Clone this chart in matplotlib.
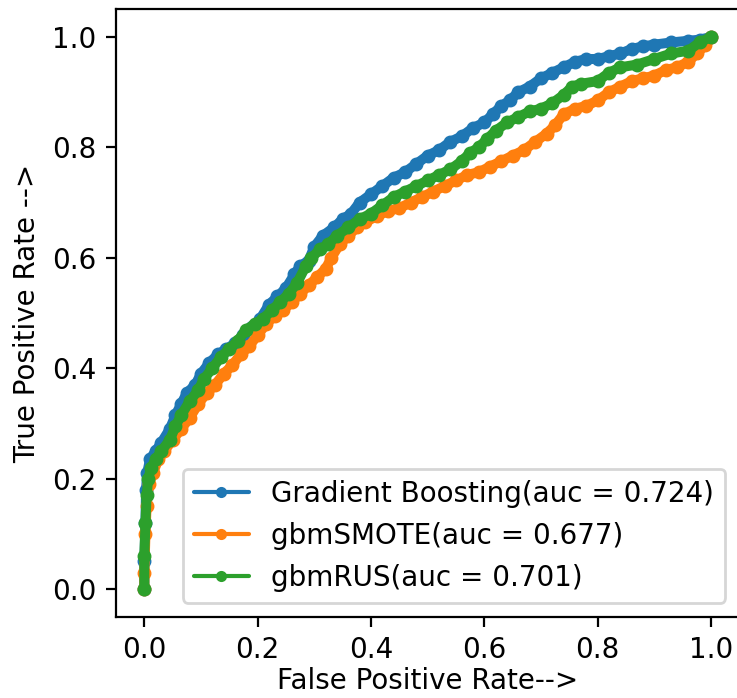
import numpy as np
import matplotlib.pyplot as plt

# ROC curve points
gb_fpr = [0, 0.0, 0.002, 0.003, 0.005, 0.01, 0.02, 0.03, 0.045, 0.055, 0.065, 0.075, 0.09, 0.10,
          0.115, 0.13, 0.145, 0.16, 0.175, 0.19, 0.205, 0.22, 0.235, 0.25, 0.265, 0.275, 0.29, 0.30,
          0.315, 0.335, 0.35, 0.365, 0.38, 0.40, 0.42, 0.44, 0.46, 0.48, 0.50, 0.52, 0.54, 0.56,
          0.58, 0.60, 0.615, 0.63, 0.645, 0.66, 0.68, 0.70, 0.72, 0.74, 0.76, 0.78, 0.80, 0.82,
          0.84, 0.86, 0.88, 0.90, 0.93, 0.96, 0.98, 1.0]
gb_tpr = [0, 0.05, 0.12, 0.18, 0.21, 0.235, 0.25, 0.265, 0.29, 0.315, 0.335, 0.355, 0.37, 0.39,
          0.41, 0.425, 0.435, 0.445, 0.46, 0.475, 0.49, 0.515, 0.53, 0.545, 0.57, 0.585, 0.595, 0.62,
          0.64, 0.655, 0.67, 0.68, 0.70, 0.715, 0.73, 0.745, 0.755, 0.77, 0.785, 0.795, 0.81, 0.82,
          0.835, 0.845, 0.86, 0.875, 0.885, 0.90, 0.91, 0.925, 0.935, 0.945, 0.955, 0.96, 0.96, 0.965,
          0.97, 0.978, 0.983, 0.986, 0.99, 0.993, 0.995, 1.0]

smote_fpr = [0, 0.0, 0.002, 0.004, 0.008, 0.015, 0.025, 0.035, 0.05, 0.065, 0.08, 0.095, 0.11, 0.125,
             0.14, 0.155, 0.17, 0.185, 0.20, 0.215, 0.23, 0.245, 0.26, 0.275, 0.29, 0.305, 0.32, 0.33,
             0.345, 0.36, 0.375, 0.39, 0.41, 0.43, 0.45, 0.47, 0.49, 0.51, 0.53, 0.55, 0.57, 0.59,
             0.61, 0.63, 0.65, 0.67, 0.69, 0.71, 0.725, 0.74, 0.76, 0.78, 0.80, 0.82, 0.84, 0.86,
             0.88, 0.90, 0.92, 0.94, 0.96, 0.975, 0.99, 1.0]
smote_tpr = [0, 0.03, 0.10, 0.15, 0.19, 0.21, 0.235, 0.25, 0.27, 0.29, 0.31, 0.335, 0.355, 0.37,
             0.39, 0.405, 0.425, 0.44, 0.46, 0.48, 0.495, 0.505, 0.52, 0.535, 0.55, 0.565, 0.58, 0.60,
             0.625, 0.64, 0.655, 0.665, 0.675, 0.685, 0.69, 0.70, 0.71, 0.72, 0.73, 0.74, 0.75, 0.755,
             0.765, 0.775, 0.785, 0.795, 0.81, 0.825, 0.84, 0.86, 0.87, 0.875, 0.885, 0.90, 0.91, 0.92,
             0.925, 0.93, 0.94, 0.945, 0.955, 0.97, 0.985, 1.0]

rus_fpr = [0, 0.0, 0.002, 0.004, 0.007, 0.012, 0.02, 0.03, 0.045, 0.055, 0.065, 0.08, 0.095, 0.105,
           0.12, 0.135, 0.15, 0.165, 0.18, 0.195, 0.21, 0.225, 0.24, 0.255, 0.27, 0.285, 0.295, 0.31,
           0.325, 0.34, 0.36, 0.38, 0.40, 0.42, 0.44, 0.46, 0.48, 0.50, 0.52, 0.54, 0.56, 0.575,
           0.59, 0.605, 0.62, 0.64, 0.66, 0.68, 0.70, 0.72, 0.74, 0.755, 0.77, 0.80, 0.82, 0.84,
           0.87, 0.90, 0.93, 0.96, 0.98, 1.0]
rus_tpr = [0, 0.06, 0.12, 0.17, 0.20, 0.22, 0.235, 0.25, 0.27, 0.295, 0.315, 0.34, 0.36, 0.38,
           0.40, 0.42, 0.435, 0.45, 0.47, 0.48, 0.49, 0.505, 0.52, 0.535, 0.555, 0.585, 0.60, 0.615,
           0.625, 0.64, 0.655, 0.67, 0.68, 0.695, 0.71, 0.72, 0.73, 0.74, 0.75, 0.76, 0.775, 0.79,
           0.80, 0.815, 0.83, 0.845, 0.855, 0.865, 0.87, 0.88, 0.895, 0.91, 0.915, 0.92, 0.935, 0.945,
           0.95, 0.96, 0.97, 0.975, 0.99, 1.0]

names = ["Gradient Boosting", "gbmSMOTE", "gbmRUS"]
aucs = [0.724, 0.677, 0.701]

dpi = 200
fig = plt.figure(figsize=(737/dpi, 698/dpi), dpi=dpi)
ax = fig.add_axes([116/737, 81.3/698, 623.3/737, 607.4/698])

curves = [(gb_fpr, gb_tpr), (smote_fpr, smote_tpr), (rus_fpr, rus_tpr)]
for (fpr, tpr), name, auc in zip(curves, names, aucs):
    ax.plot(fpr, tpr, marker='.', markersize=8, linewidth=3.6,
            solid_joinstyle='round', solid_capstyle='round',
            label=name + "(auc = " + str(auc) + ")")

ax.set_xlim(-0.05, 1.05)
ax.set_ylim(-0.05, 1.05)
ax.set_xticks([0.0, 0.2, 0.4, 0.6, 0.8, 1.0])
ax.set_yticks([0.0, 0.2, 0.4, 0.6, 0.8, 1.0])
ax.set_xlabel('False Positive Rate-->', labelpad=1)
ax.set_ylabel('True Positive Rate -->')
leg = ax.legend(loc='lower right')
for h in leg.legend_handles:
    h.set_linewidth(1.5)
    h.set_markersize(6)

fig.savefig('out.png', dpi=dpi)
